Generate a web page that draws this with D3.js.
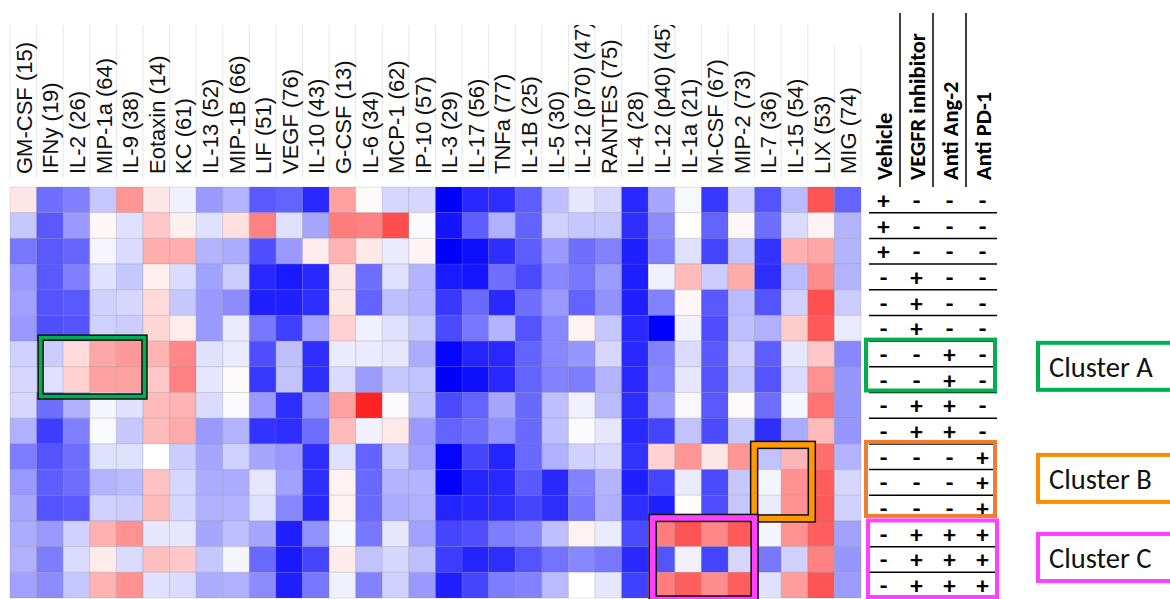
<!DOCTYPE html>
<html>
<head>
<meta charset="utf-8">
<script src="https://cdn.jsdelivr.net/npm/d3@7"></script>
<style>
  body { margin: 0; background: #fff; }
  svg { display: block; }
</style>
</head>
<body>
<svg id="chart"></svg>
<script>
// cytokine columns (cluster order)
const cytokines = ["GM-CSF (15)", "IFNy (19)", "IL-2 (26)", "MIP-1a (64)", "IL-9 (38)", "Eotaxin (14)",
    "KC (61)", "IL-13 (52)", "MIP-1B (66)", "LIF (51)", "VEGF (76)", "IL-10 (43)", "G-CSF (13)",
    "IL-6 (34)", "MCP-1 (62)", "IP-10 (57)", "IL-3 (29)", "IL-17 (56)", "TNFa (77)", "IL-1B (25)",
    "IL-5 (30)", "IL-12 (p70) (47)", "RANTES (75)", "IL-4 (28)", "IL-12 (p40) (45)", "IL-1a (21)",
    "M-CSF (67)", "MIP-2 (73)", "IL-7 (36)", "IL-15 (54)", "LIX (53)", "MIG (74)"];

const treatments = ["Vehicle", "VEGFR inhibitor", "Anti Ang-2", "Anti PD-1"];

// one string per sample row, one char per treatment
const groupSigns = ["+---", "+---", "+---", "-+--", "-+--", "-+--", "--+-", "--+-",
    "-++-", "-++-", "---+", "---+", "---+", "-+++", "-+++", "-+++"];

// relative level, -100 (blue) .. 100 (red), one row per sample
const values = [
    [10,-57,-50,-22,42,10,-6,-40,-30,-65,-61,-84,37,2,-16,-16,-100,-84,-82,-63,-25,-10,-16,-84,-35,-3,-78,-18,-67,-27,67,-61],
    [-22,-65,-40,3,-12,22,6,-12,12,49,-12,-35,51,49,70,-2,-92,-63,-31,-61,-18,-22,-22,-82,-45,0,-61,3,-57,-14,5,-30],
    [-53,-65,-60,-4,-14,32,32,-30,-33,-69,-40,8,30,9,-8,5,-100,-94,-82,-63,-40,-57,-49,-88,-49,-12,-73,-24,-80,31,35,-30],
    [-40,-65,-50,-12,-22,6,-14,-37,-20,-84,-90,-84,10,-57,-12,-30,-90,-92,-57,-71,-47,-53,-39,-88,-6,27,-20,33,-82,-27,45,-30],
    [-37,-67,-65,-18,-16,14,-22,-40,-45,-88,-88,-82,10,-61,-25,-30,-78,-59,-84,-57,-40,-61,-43,-88,-49,3,-65,-27,-67,-18,69,-20],
    [-40,-69,-67,-18,-20,16,8,-40,-8,-53,-75,-37,18,-6,-12,-22,-71,-53,-30,-67,-47,5,-22,-84,-100,-6,-69,-25,-31,20,65,-8],
    [-18,-20,14,35,40,30,47,-12,-8,-69,-25,-82,-8,-8,-10,-33,-98,-86,-84,-61,-47,-41,-16,-84,-49,-14,-65,-18,-63,-10,22,-47],
    [-16,-12,18,37,37,22,50,-10,2,-78,-24,-82,-14,-39,-22,-24,-100,-94,-84,-61,-49,-51,-30,-84,-47,-10,-67,-22,-67,-14,43,-41],
    [-16,-57,-31,-4,-12,27,30,-14,-2,-40,-82,-43,37,86,-2,-25,-71,-61,-35,-59,-25,-6,-27,-82,-39,-3,-65,2,-57,-4,55,-41],
    [-31,-76,-50,-2,-22,27,33,-40,-30,-80,-82,-57,27,-6,9,-40,-61,-57,-43,-59,-25,-2,-10,-84,-73,-24,-71,-22,-82,-33,27,-41],
    [-51,-67,-57,-12,-12,0,-20,-35,-18,-35,-40,-82,-12,-61,-22,-37,-98,-73,-86,-59,-31,-18,-16,-80,18,41,10,41,-24,29,57,-30],
    [-40,-63,-57,-30,-27,24,-16,-33,-33,-10,-37,-82,5,-59,-30,-30,-100,-86,-84,-65,-84,-49,-30,-88,-73,-8,-71,-22,-4,43,63,-16],
    [-35,-67,-65,-18,-20,27,-16,-31,-30,-12,-47,-84,5,-59,-33,-31,-86,-84,-82,-73,-82,-53,-31,-82,-88,1,-69,-22,-8,43,65,-18],
    [-33,-40,-18,31,43,-10,-10,-35,-25,-35,-88,-43,-3,-53,-10,-37,-73,-69,-51,-47,-25,5,-8,-71,51,67,47,65,-4,43,63,-37],
    [-31,-51,-14,8,-14,25,22,-22,-4,-59,-90,-73,8,-24,-16,-25,-76,-86,-82,-67,-55,-47,-53,-84,-67,-6,-73,-16,-53,-18,49,-41],
    [-37,-45,-22,30,43,-12,-14,-33,-31,-45,-88,-53,-6,-49,-18,-40,-88,-73,-51,-49,-27,0,-10,-75,51,63,45,63,-12,39,67,-39]
];

// highlighted clusters: columns and rows they cover
const clusterNames = ["Cluster A", "Cluster B", "Cluster C"];
const clusterCols = [[1, 4], [28, 29], [24, 27]];
const clusterRows = [[6, 7], [10, 12], [13, 15]];

const width = 1170, height = 599;
const svg = d3.select("#chart").attr("width", width).attr("height", height);

const x = d3.scaleBand().domain(d3.range(cytokines.length)).range([10, 861]);
const y = d3.scaleBand().domain(d3.range(values.length)).range([187, 598]);
const color = d3.scaleLinear().domain([-100, 0, 100]).range(["#0000ff", "#ffffff", "#ff0000"]);

//header separators
svg.append("g").selectAll("line")
    .data(d3.range(cytokines.length + 1))
    .join("line")
    .attr("x1", d => 10 + d * x.step()).attr("x2", d => 10 + d * x.step())
    .attr("y1", d => d >= 31 ? 45 : 25).attr("y2", 178)
    .attr("stroke", "#e6e6e6").attr("stroke-width", 1);

svg.append("clipPath").attr("id", "labelClip")
    .append("rect").attr("x", 0).attr("y", 25).attr("width", 870).attr("height", 160);

svg.append("g").attr("clip-path", "url(#labelClip)")
    .selectAll("text")
    .data(cytokines)
    .join("text")
    .attr("transform", (d, i) => "translate(" + (x(i) + x.bandwidth() / 2 + 8.5) + ",174) rotate(-90)")
    .attr("font-family", "'Liberation Sans', Arial, sans-serif")
    .attr("font-size", 22)
    .attr("fill", "#111")
    .text(d => d);

// heatmap cells
const cells = [];
values.forEach(function (row, r) {
    row.forEach(function (v, c) {
        cells.push({r: r, c: c, v: v});
    });
});

svg.append("g").selectAll("rect")
    .data(cells)
    .join("rect")
    .attr("x", d => x(d.c)).attr("y", d => y(d.r))
    .attr("width", x.bandwidth()).attr("height", y.bandwidth())
    .attr("fill", d => color(d.v))
    .attr("stroke", "rgba(110,110,110,0.18)")
    .attr("stroke-width", 1);

// treatment table
const tx = d3.scaleBand().domain(treatments).range([867, 999]);

svg.append("g").selectAll("line")
    .data(treatments.slice(1))
    .join("line")
    .attr("x1", d => tx(d)).attr("x2", d => tx(d))
    .attr("y1", 13).attr("y2", 187)
    .attr("stroke", "#000").attr("stroke-width", 1.5);

svg.append("g").selectAll("text")
    .data(treatments)
    .join("text")
    .attr("transform", d => "translate(" + (tx(d) + tx.bandwidth() / 2 + 8.5) + ",180) rotate(-90)")
    .attr("font-family", "Carlito, Calibri, Lato, sans-serif")
    .attr("font-weight", "bold")
    .attr("font-size", 22.5)
    .text(d => d);

svg.append("g").selectAll("line")
    .data(d3.range(values.length - 1))
    .join("line")
    .attr("x1", 869).attr("x2", 997)
    .attr("y1", d => y(d) + y.bandwidth()).attr("y2", d => y(d) + y.bandwidth())
    .attr("stroke", "#000").attr("stroke-width", 1.5);

const signs = [];
groupSigns.forEach(function (s, r) {
    treatments.forEach(function (t, k) {
        signs.push({r: r, t: t, s: s[k]});
    });
});

svg.append("g").selectAll("text")
    .data(signs)
    .join("text")
    .attr("x", d => tx(d.t) + tx.bandwidth() / 2)
    .attr("y", d => y(d.r) + y.bandwidth() / 2 + 9)
    .attr("text-anchor", "middle")
    .attr("font-family", "Carlito, Calibri, Lato, sans-serif")
    .attr("font-weight", "bold")
    .attr("font-size", 25)
    .text(d => d.s);

// cluster outlines
const heatColors = ["#00b050", "#ff9900", "#ff40ff"];
const tableColors = ["#00b050", "#ed7d31", "#ff40ff"];
const labelColors = ["#00b050", "#ff8c00", "#ff40ff"];
const heatPad = [[4, 1.5, -3.5, 4], [-0.5, 4, 1, -2.5], [4.5, 0, -3, 1.5]];
const tablePad = [[-1.5, -2], [-2, -5], [-0.5, -1]];
const labelShift = [0, -3.5, -1.5];

clusterNames.forEach(function (name, i) {
    let p = heatPad[i];
    let x0 = x(clusterCols[i][0]) + p[0];
    let x1 = x(clusterCols[i][1]) + x.bandwidth() + p[1];
    let y0 = y(clusterRows[i][0]) + p[2];
    let y1 = y(clusterRows[i][1]) + y.bandwidth() + p[3];
    let sw = i === 0 ? 3.5 : 5.5;

    svg.append("rect")
        .attr("x", x0).attr("y", y0).attr("width", x1 - x0).attr("height", y1 - y0)
        .attr("fill", "none").attr("stroke", "#111").attr("stroke-width", sw + 3);
    svg.append("rect")
        .attr("x", x0).attr("y", y0).attr("width", x1 - x0).attr("height", y1 - y0)
        .attr("fill", "none").attr("stroke", heatColors[i]).attr("stroke-width", sw);

    let ty0 = y(clusterRows[i][0]) + tablePad[i][0];
    let ty1 = y(clusterRows[i][1]) + y.bandwidth() + tablePad[i][1];
    svg.append("rect")
        .attr("x", 866 + (i === 2 ? 2 : 0)).attr("y", ty0)
        .attr("width", 129).attr("height", ty1 - ty0)
        .attr("fill", "none").attr("stroke", tableColors[i]).attr("stroke-width", 4);

    // label box, aligned to the middle of the cluster rows
    let mid = (y(clusterRows[i][0]) + y(clusterRows[i][1]) + y.bandwidth()) / 2 + labelShift[i];
    svg.append("rect")
        .attr("x", 1038).attr("y", mid - 24)
        .attr("width", 150).attr("height", 47)
        .attr("fill", "none").attr("stroke", labelColors[i]).attr("stroke-width", 4);
    svg.append("text")
        .attr("x", 1049).attr("y", mid + 10)
        .attr("font-family", "Carlito, Calibri, Lato, sans-serif")
        .attr("font-size", 28.5)
        .attr("fill", "#111")
        .text(name);
});
</script>
</body>
</html>
